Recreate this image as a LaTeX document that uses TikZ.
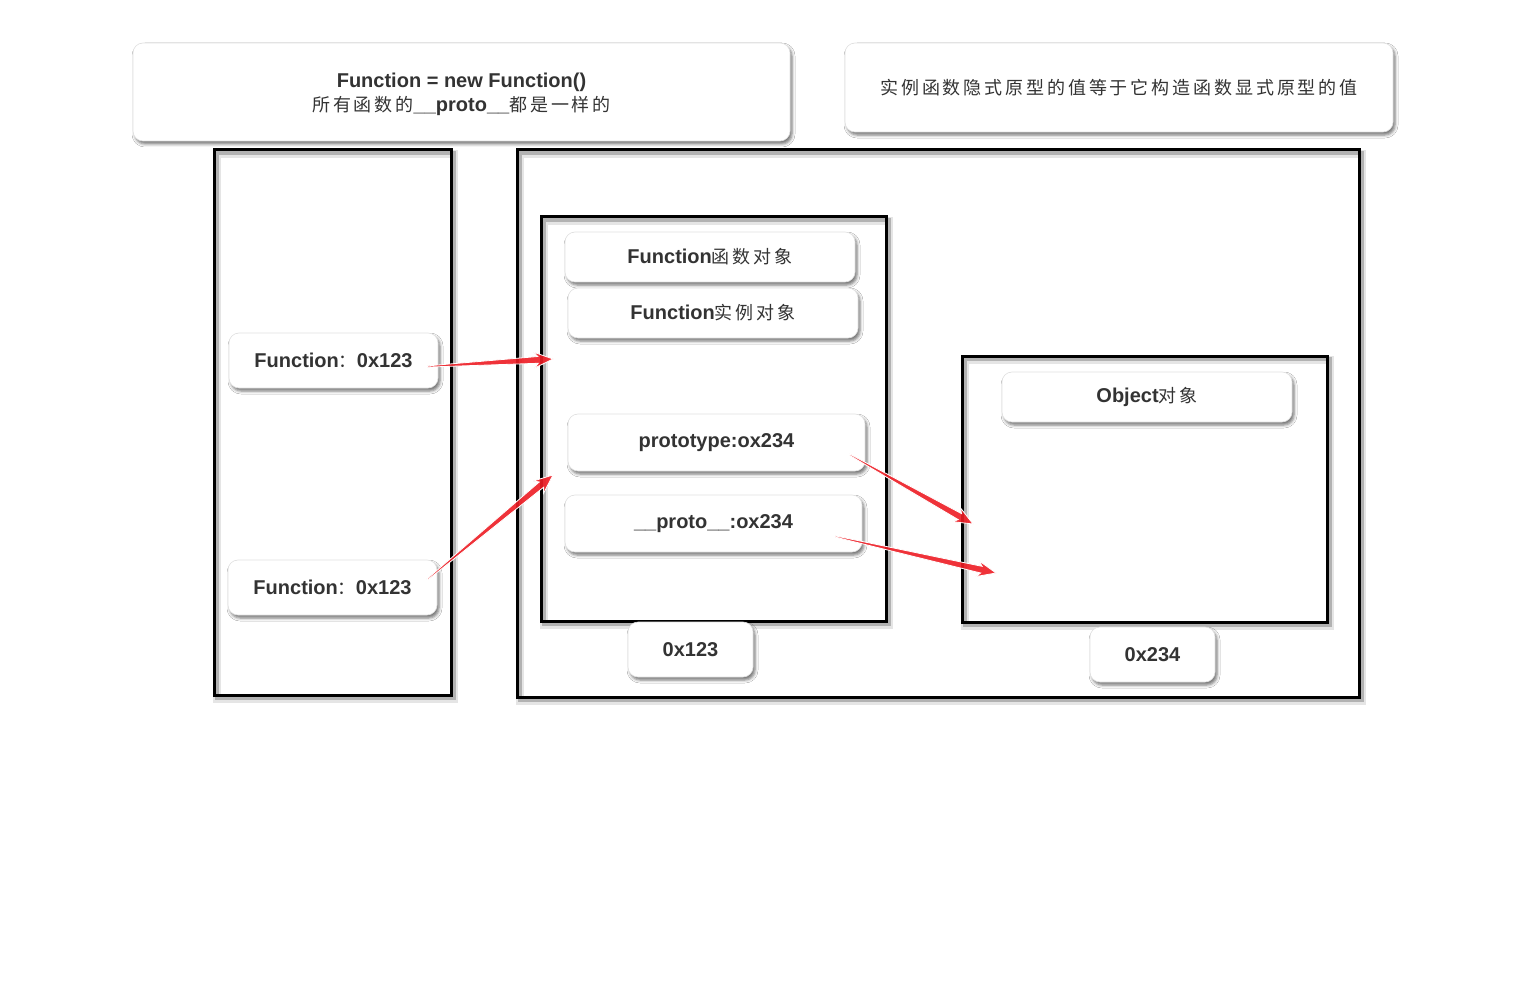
\documentclass[tikz,border=0pt]{standalone}
\usepackage{fontspec}
\setmainfont{Liberation Sans}
\newfontfamily\cjk[LetterSpace=16]{Noto Sans CJK SC}
\usetikzlibrary{calc,shadows.blur}
\definecolor{txt}{HTML}{333333}
\definecolor{arrred}{HTML}{EE1C24}
\newcommand{\lbl}{\fontsize{20}{25}\selectfont\bfseries}
\newcommand{\zh}[1]{{\cjk\mdseries\fontsize{18}{25}\selectfont #1}}
\newcommand{\redarrow}[2]{%
  \coordinate (hb) at ($(#2)!15pt!(#1)$);
  \coordinate (hh) at ($(#2)!19pt!(#1)$);
  \filldraw[fill=arrred, fill opacity=0.9, draw=white, line width=0.8pt, line join=miter]
    ($(#1)!0.6pt!90:(#2)$) -- ($(hb)!3.4pt!90:(#2)$) -- ($(hh)!8pt!90:(#2)$) -- (#2)
    -- ($(hh)!8pt!-90:(#2)$) -- ($(hb)!3.4pt!-90:(#2)$) -- ($(#1)!0.6pt!-90:(#2)$) -- cycle;
}
\tikzset{
  frame/.style={draw=black, line width=3pt, inner sep=0pt,
    preaction={draw=black, draw opacity=0.10, line width=8pt, transform canvas={xshift=3pt,yshift=-4pt}},
    preaction={draw=black, draw opacity=0.22, line width=4pt, transform canvas={xshift=3pt,yshift=-3pt}}},
  card/.style={draw=black!12, line width=0.6pt, fill=white, rounded corners=10pt, inner sep=0pt,
    text=txt, font=\lbl, align=center,
    blur shadow={shadow xshift=2pt, shadow yshift=-3pt, shadow blur radius=3pt, shadow opacity=55}},
  plaintext/.style={inner sep=0pt, text=txt, font=\lbl, align=center},
}
\begin{document}
\begin{tikzpicture}[x=1pt,y=-1pt]
\useasboundingbox[fill=white] (0,0) rectangle (1536,1000);

% frames
\node[frame, minimum width=237, minimum height=545] (leftframe) at (332.5,422.5) {};
\node[frame, minimum width=842, minimum height=547] (bigframe) at (938,423.5) {};
\node[frame, minimum width=345, minimum height=404] (fnframe) at (713.5,419) {};
\node[frame, minimum width=365, minimum height=266] (objframe) at (1144.5,489) {};

% top notes
\node[card, minimum width=657, minimum height=98] (note1) at (461.5,92) {};
\node[plaintext] (note1text) at ($(note1.center)+(0,2)$)
  {Function = new Function()\\[-1pt]\zh{所有函数的}\_\_proto\_\_\zh{都是一样的}};
\node[card, minimum width=548, minimum height=89] (note2) at (1119,87.5)
  {\zh{实例函数隐式原型的值等于它构造函数显式原型的值}};

% cards
\node[card, minimum width=290, minimum height=50] (fnobj) at (710,257) {Function\zh{函数对象}};
\node[card, minimum width=290, minimum height=50] (fninst) at (713,313) {Function\zh{实例对象}};
\node[card, minimum width=209, minimum height=55] (fn1) at (333.5,360.5) {Function\zh{：}0x123};
\node[card, minimum width=209, minimum height=55] (fn2) at (332.5,587.5) {Function\zh{：}0x123};
\node[card, minimum width=297, minimum height=57] (proto1) at (716.5,442.5) {prototype:ox234};
\node[card, minimum width=297, minimum height=57] (proto2) at (713.5,523.5) {\_\_proto\_\_:ox234};
\node[card, minimum width=290, minimum height=50] (objobj) at (1147,397) {Object\zh{对象}};
\node[card, minimum width=125, minimum height=55] (addr1) at (690.5,649.5) {0x123};
\node[card, minimum width=125, minimum height=55] (addr2) at (1152.5,654.5) {0x234};

% arrow tips
\coordinate (tip1) at (553,359);
\coordinate (tip2) at (553,475);
\coordinate (tip3) at (973,524);
\coordinate (tip4) at (996,573);
\coordinate (st1) at ($(fn1.east)+(-11,6)$);
\coordinate (st2) at ($(fn2.east)+(-10,-8)$);
\coordinate (st3) at ($(proto1.east)+(-16,12)$);
\coordinate (st4) at ($(proto2.east)+(-27,13)$);

\redarrow{st1}{tip1}
\redarrow{st2}{tip2}
\redarrow{st3}{tip3}
\redarrow{st4}{tip4}
\end{tikzpicture}
\end{document}
